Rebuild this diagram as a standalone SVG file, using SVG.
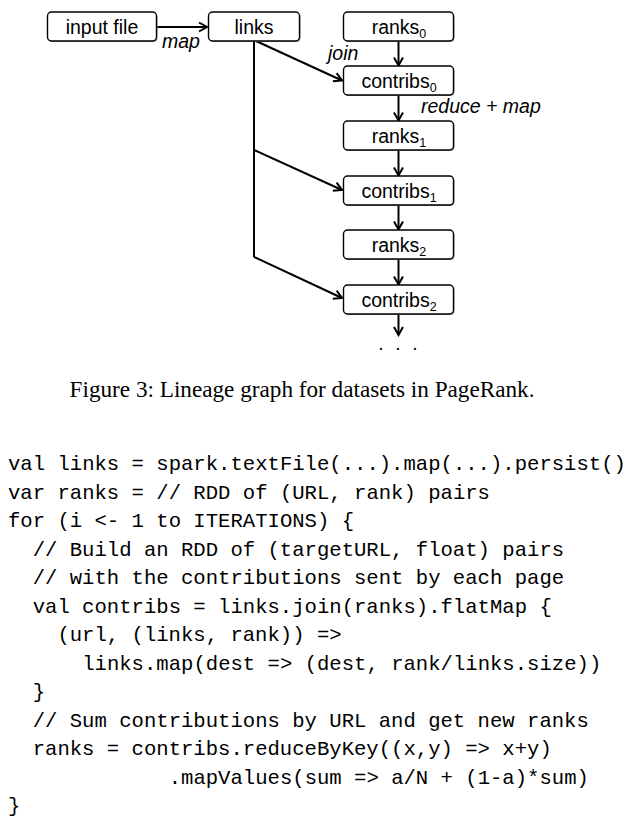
<svg xmlns="http://www.w3.org/2000/svg" width="638" height="831" viewBox="0 0 638 831">
<defs>
<marker id="ah" markerWidth="12" markerHeight="12" refX="10" refY="6" orient="auto" markerUnits="userSpaceOnUse">
<path d="M2,1.5 L10,6 L2,10.5" fill="none" stroke="#000" stroke-width="2" stroke-linejoin="miter"/>
</marker>
<style>
.box{fill:#fff;stroke:#000;stroke-width:1.4}
.sh{fill:#9a9a9a;stroke:none}
.nt{font-family:"Liberation Sans",Arial,sans-serif;font-size:19.5px;text-anchor:middle;fill:#000}
.lb{font-family:"Liberation Sans",Arial,sans-serif;font-size:19.5px;font-style:italic;fill:#000}
.sub{font-size:12.5px}
.ed{fill:none;stroke:#000;stroke-width:2}
.cap{font-family:"Liberation Serif","Times New Roman",serif;font-size:23.2px;fill:#000}
.code{font-family:"Liberation Mono","Courier New",monospace;font-size:20.6px;fill:#000}
</style>
</defs>
<rect width="638" height="831" fill="#fff"/>
<g id="connectors">
<path class="ed" d="M157,27 L207,27" marker-end="url(#ah)"/>
<path class="ed" d="M254,41 L254,257"/>
<path class="ed" d="M256,41 L342,80.5" marker-end="url(#ah)"/>
<path class="ed" d="M254,150 L342,190" marker-end="url(#ah)"/>
<path class="ed" d="M254,257 L342,298" marker-end="url(#ah)"/>
<path class="ed" d="M398.5,41 L398.5,65.5" marker-end="url(#ah)"/>
<path class="ed" d="M398.5,95 L398.5,120.5" marker-end="url(#ah)"/>
<path class="ed" d="M398.5,150 L398.5,175.5" marker-end="url(#ah)"/>
<path class="ed" d="M398.5,205 L398.5,229.5" marker-end="url(#ah)"/>
<path class="ed" d="M398.5,259 L398.5,284.5" marker-end="url(#ah)"/>
<path class="ed" d="M398.5,314 L398.5,335" marker-end="url(#ah)"/>
<text class="lb" x="162" y="48">map</text>
<text class="lb" x="328" y="60">join</text>
<text class="lb" x="421" y="113">reduce + map</text>
<text class="nt" x="381 398 415" y="350" text-anchor="start">...</text>
</g>
<g id="input_file">
<rect class="sh" x="48.5" y="13" width="109" height="29" rx="4"/>
<rect class="box" x="47.5" y="12" width="109" height="29" rx="4"/>
<text class="nt" x="102" y="34">input file</text>
</g>
<g id="links">
<rect class="sh" x="209.5" y="13" width="91" height="29" rx="4"/>
<rect class="box" x="208.5" y="12" width="91" height="29" rx="4"/>
<text class="nt" x="254" y="34">links</text>
</g>
<g id="ranks0">
<rect class="sh" x="344.5" y="13" width="110" height="29" rx="4"/>
<rect class="box" x="343.5" y="12" width="110" height="29" rx="4"/>
<text class="nt" x="399" y="34">ranks<tspan class="sub" dy="4">0</tspan></text>
</g>
<g id="contribs0">
<rect class="sh" x="344.5" y="67" width="110" height="29" rx="4"/>
<rect class="box" x="343.5" y="66" width="110" height="29" rx="4"/>
<text class="nt" x="399" y="88">contribs<tspan class="sub" dy="4">0</tspan></text>
</g>
<g id="ranks1">
<rect class="sh" x="344.5" y="122" width="110" height="29" rx="4"/>
<rect class="box" x="343.5" y="121" width="110" height="29" rx="4"/>
<text class="nt" x="399" y="143">ranks<tspan class="sub" dy="4">1</tspan></text>
</g>
<g id="contribs1">
<rect class="sh" x="344.5" y="177" width="110" height="29" rx="4"/>
<rect class="box" x="343.5" y="176" width="110" height="29" rx="4"/>
<text class="nt" x="399" y="198">contribs<tspan class="sub" dy="4">1</tspan></text>
</g>
<g id="ranks2">
<rect class="sh" x="344.5" y="231" width="110" height="29" rx="4"/>
<rect class="box" x="343.5" y="230" width="110" height="29" rx="4"/>
<text class="nt" x="399" y="252">ranks<tspan class="sub" dy="4">2</tspan></text>
</g>
<g id="contribs2">
<rect class="sh" x="344.5" y="286" width="110" height="29" rx="4"/>
<rect class="box" x="343.5" y="285" width="110" height="29" rx="4"/>
<text class="nt" x="399" y="307">contribs<tspan class="sub" dy="4">2</tspan></text>
</g>
<g id="caption">
<text class="cap" x="302" y="397" text-anchor="middle">Figure 3: Lineage graph for datasets in PageRank.</text>
</g>
<g id="code" class="code">
<text x="8" y="470">val links = spark.textFile(...).map(...).persist()</text>
<text x="8" y="498.5">var ranks = // RDD of (URL, rank) pairs</text>
<text x="8" y="527">for (i &lt;- 1 to ITERATIONS) {</text>
<text x="32.7" y="555.5">// Build an RDD of (targetURL, float) pairs</text>
<text x="32.7" y="584">// with the contributions sent by each page</text>
<text x="32.7" y="612.5">val contribs = links.join(ranks).flatMap {</text>
<text x="57.4" y="641">(url, (links, rank)) =&gt;</text>
<text x="82.2" y="669.5">links.map(dest =&gt; (dest, rank/links.size))</text>
<text x="32.7" y="698">}</text>
<text x="32.7" y="726.5">// Sum contributions by URL and get new ranks</text>
<text x="32.7" y="755">ranks = contribs.reduceByKey((x,y) =&gt; x+y)</text>
<text x="168.7" y="783.5">.mapValues(sum =&gt; a/N + (1-a)*sum)</text>
<text x="8" y="812">}</text>
</g>
</svg>
